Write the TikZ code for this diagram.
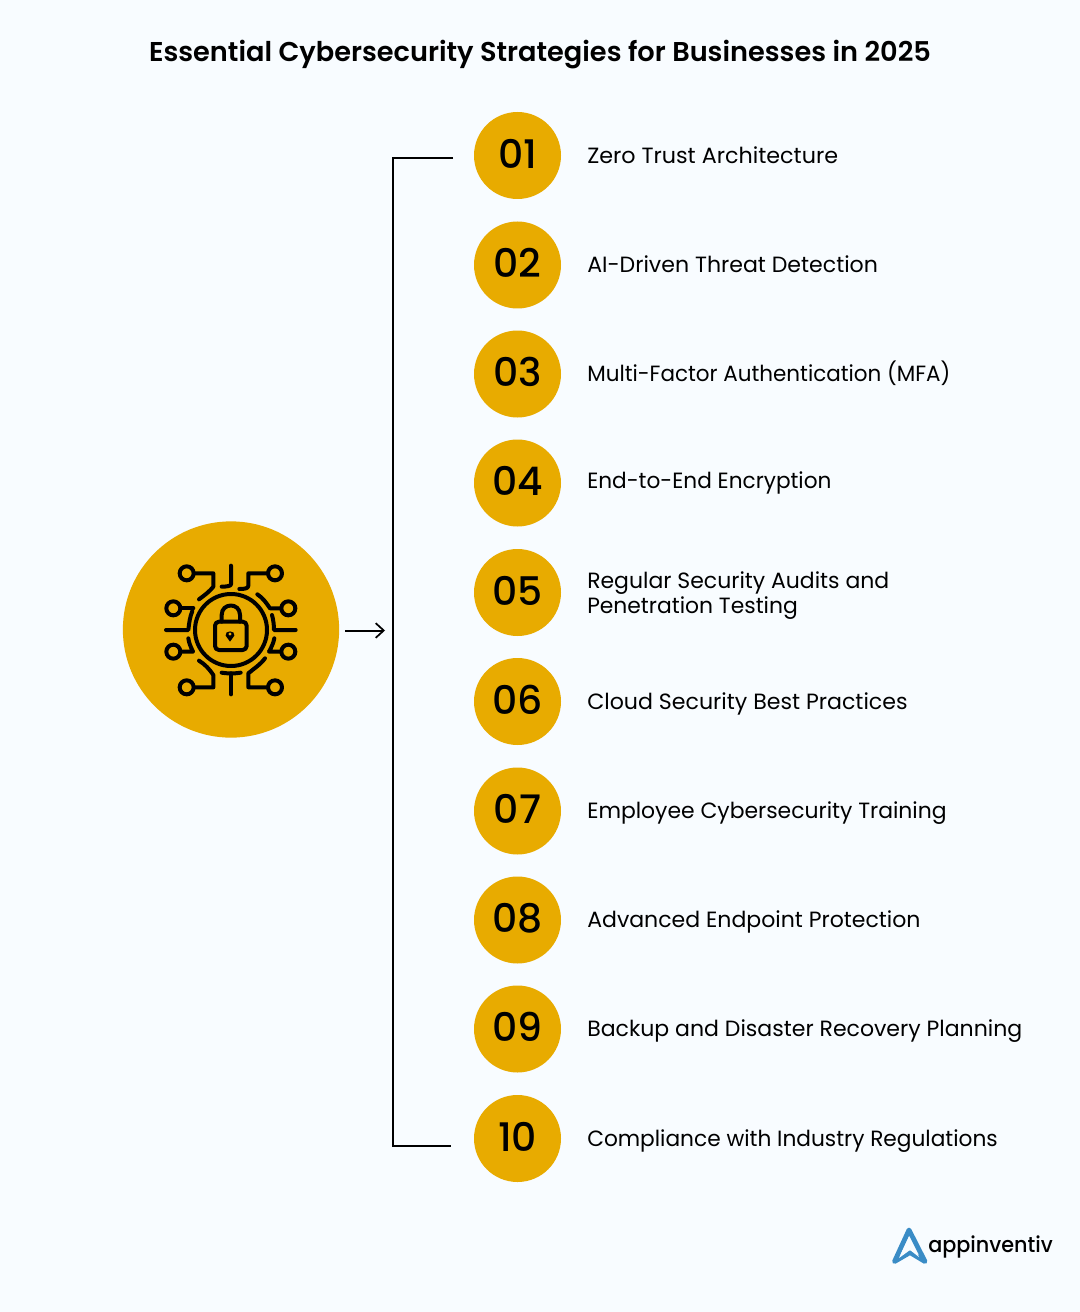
\documentclass[tikz,border=0pt]{standalone}
\usepackage{graphicx}
\usepackage{fontspec}
\setmainfont{Poppins}
\newfontfamily\numf{Poppins Medium}
\newfontfamily\titlef{Poppins SemiBold}
\usetikzlibrary{arrows.meta}
\definecolor{bgc}{HTML}{F8FCFF}
\definecolor{gold}{HTML}{E8AB00}
\definecolor{logoblue}{HTML}{3A8CC6}
\tikzset{
 x=0.75pt,y=-0.75pt,
 numdisc/.style={circle,fill=gold,minimum size=65.25pt,inner sep=0pt,font=\numf\fontsize{29.5}{29.5}\selectfont,text=black,text height=19.2pt,text depth=0pt},
 itemlab/.style={anchor=base west,inner sep=0pt,font=\fontsize{16.55}{16.55}\selectfont,text=black,align=left},
 link/.style={draw=black,line width=1.5pt},
 icon/.style={draw=black,line width=3pt,line cap=round,line join=round},
}
\begin{document}
\begin{tikzpicture}
\fill[bgc] (0,0) rectangle (1080,1312);
\useasboundingbox (0,0) rectangle (1080,1312);
\node[anchor=base,inner sep=0pt,font=\titlef\fontsize{20.4}{20.4}\selectfont] (title) at (540,62) {Essential Cybersecurity Strategies for Businesses in 2025};
\node[circle,fill=gold,minimum width=162.2pt,minimum height=162.2pt,inner sep=0pt] (hub) at (231,629.5) {};
\foreach \n/\y/\b/\s/\t in {01/155.5/164/1.008/Zero Trust Architecture,02/265/273/1/AI-Driven Threat Detection,03/374/381/0.973/Multi-Factor Authentication (MFA),04/483/488/0.98/End-to-End Encryption,06/701.5/709/1.002/Cloud Security Best Practices,07/811/818/0.992/Employee Cybersecurity Training,08/920/927/0.998/Advanced Endpoint Protection,09/1029/1036/0.998/Backup and Disaster Recovery Planning,10/1138.5/1146/0.983/Compliance with Industry Regulations}{
 \node[numdisc] (d\n) at (517.5,\y) {\n};
 \node[itemlab] (t\n) at (587,\b) {\scalebox{\s}[1]{\t}};
}
\node[numdisc] (d05) at (517.5,592.5) {05};
\node[itemlab] (t05) at (587,588) {\scalebox{0.995}[1]{Regular Security Audits and}};
\node[itemlab] (t05b) at (587,613) {\scalebox{0.99}[1]{Penetration Testing}};
\coordinate (btop) at (453,158);
\coordinate (bbot) at (451,1146);
\coordinate (bmidT) at (393,158);
\coordinate (bmidB) at (393,1146);
\coordinate (aS) at (345,630.5);
\coordinate (aE) at (385,630.5);
\draw[link] (btop) -- (bmidT) -- (bmidB) -- (bbot);
\draw[link,-{Straight Barb[length=6pt,width=11pt,line width=1.3pt]}] (aS) -- (aE);
\begin{scope}[x=0.25pt,y=-0.25pt,shift={(90pt,-386.25pt)}]
 \foreach \p in {(200,175),(465,175),(160,280),(505,280),(160,410),(505,410),(200,517),(465,517)}
  \draw[icon] \p circle (21);
 \draw[icon] (333,345) circle (108);
 \draw[icon] (222,175)--(280,175)--(280,215) .. controls (270,228) and (255,240) .. (237,253);
 \draw[icon] (333,152)--(333,208) .. controls (333,213) and (320,215) .. (305,215);
 \draw[icon] (443,175)--(385,175)--(385,212) .. controls (385,220) and (375,222) .. (358,222);
 \draw[icon] (412,238) .. controls (428,248) and (440,265) .. (450,280)--(482,280);
 \draw[icon] (183,280)--(220,280);
 \draw[icon] (217,288) .. controls (210,305) and (207,325) .. (205,345)--(138,345);
 \draw[icon] (527,345)--(462,345) .. controls (462,330) and (460,315) .. (456,300);
 \draw[icon] (183,410)--(219,410) .. controls (212,395) and (207,385) .. (205,370);
 \draw[icon] (482,410)--(447,410) .. controls (455,395) and (460,385) .. (463,370);
 \draw[icon] (222,517)--(280,517)--(280,480) .. controls (268,462) and (255,448) .. (237,437);
 \draw[icon] (333,538)--(333,475);
 \draw[icon] (305,473) .. controls (322,476) and (345,476) .. (362,473);
 \draw[icon] (443,517)--(385,517)--(385,475) .. controls (400,462) and (420,450) .. (435,430);
 \draw[icon,rounded corners=3pt] (285,320) rectangle (380,405);
 \draw[icon] (305,320)--(305,300) .. controls (305,262) and (360,262) .. (360,300) --(360,320);
 \fill[black] (330,380) -- (317,362) .. controls (312,345) and (348,345) .. (343,362) -- cycle;
 \fill[gold] (330,357) circle (5);
\end{scope}
\draw[logoblue,line width=3.6pt,line cap=round,line join=round] (894.5,1261.5) -- (909,1230) -- (925,1261.5) -- (910,1252.5) -- cycle;
\fill[bgc] (899,1258) -- (909,1237) -- (919,1257) -- (910,1250) -- cycle;
\node[anchor=base west,inner sep=0pt,font=\numf\fontsize{16.3}{16.3}\selectfont,text=black] (logo) at (928,1252) {\scalebox{0.955}[1]{appinventiv}};
\end{tikzpicture}
\end{document}
